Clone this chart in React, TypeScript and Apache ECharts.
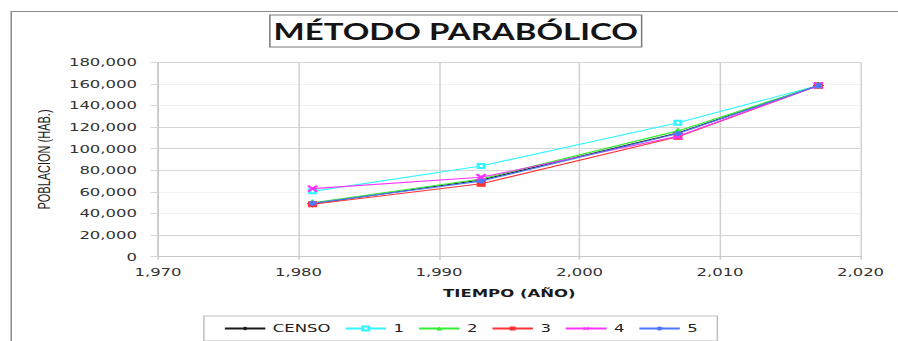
import React, { useEffect, useRef } from "react";
import * as echarts from "echarts";

// Census years and population (inhabitants) for each projection run
const years = [1981, 1993, 2007, 2017];
const censo = [49000, 71000, 114500, 158500];
const metodo1 = [60500, 84000, 124000, 158500];
const metodo2 = [50000, 72000, 116500, 158500];
const metodo3 = [48500, 67500, 111000, 158500];
const metodo4 = [63000, 73500, 111500, 158500];
const metodo5 = [49500, 70000, 114000, 158500];

const seriesNames = ["CENSO", "1", "2", "3", "4", "5"];
const seriesValues = [censo, metodo1, metodo2, metodo3, metodo4, metodo5];
const seriesColors = ["#1a1a1a", "#33f5ff", "#33ee33", "#ff3333", "#ff33ff", "#4d79ff"];
const crossSymbol =
  "path://M0,1L1,0L5,4L9,0L10,1L6,5L10,9L9,10L5,6L1,10L0,9L4,5Z";
const seriesSymbols = ["diamond", "emptyRect", "triangle", "rect", crossSymbol, "circle"];
const seriesSymbolSizes = [6, 4, 5, 5, 6, 4];

const chartTitle = "MÉTODO PARABÓLICO";
const xAxisName = "TIEMPO (AÑO)";
const yAxisName = "POBLACION (HAB.)";

// The sheet was exported with a horizontal stretch; render narrow and widen.
const PAGE_W = 898;
const PAGE_H = 341;
const CHART_W = 599;
const STRETCH = PAGE_W / CHART_W;

const fmt = (v: number) => v.toLocaleString("en-US");

// visible / faint horizontal grid lines (0 .. 180,000)
const ySplitColors = [
  "#d6d6d6", "#d6d6d6", "#f2f2f2", "#f2f2f2", "#d6d6d6",
  "#d6d6d6", "#d6d6d6", "#f2f2f2", "#f2f2f2", "#d6d6d6",
];

export default function App() {
  const ref = useRef<HTMLDivElement>(null);

  useEffect(() => {
    if (!ref.current) return;
    const chart = echarts.init(ref.current, null, { renderer: "svg" });

    const series = seriesNames.map((name, i) => ({
      name,
      type: "line",
      data: years.map((y, k) => [y, seriesValues[i][k]]),
      symbol: seriesSymbols[i],
      symbolSize: seriesSymbolSizes[i],
      showSymbol: true,
      color: seriesColors[i],
      lineStyle: { width: 1.1, color: seriesColors[i] },
      itemStyle: { color: seriesColors[i], borderColor: seriesColors[i] },
      z: 2 + i,
    }));

    chart.setOption({
      animation: false,
      backgroundColor: "#ffffff",
      graphic: [
        {
          type: "rect",
          left: 5,
          top: 9,
          shape: { width: 620, height: 400 },
          style: { fill: "none", stroke: "#8c8c8c", lineWidth: 1 },
          silent: true,
        },
        {
          type: "rect",
          x: 180,
          y: 15,
          shape: { width: 248, height: 32 },
          style: { fill: "#ffffff", stroke: "#7a7a7a", lineWidth: 1 },
          silent: true,
        },
        {
          type: "text",
          x: 304,
          y: 31.5,
          style: {
            text: chartTitle,
            fill: "#141414",
            font: "bold 22px Lato, 'Open Sans', sans-serif",
            textAlign: "center",
            textVerticalAlign: "middle",
          },
          silent: true,
        },
      ],
      legend: {
        data: seriesNames,
        left: 136,
        top: 316,
        orient: "horizontal",
        itemWidth: 27,
        itemHeight: 5,
        itemGap: 9,
        padding: [7, 13, 7, 13],
        borderColor: "#bdbdbd",
        borderWidth: 1,
        backgroundColor: "#ffffff",
        textStyle: {
          fontFamily: "DejaVu Sans",
          fontSize: 11,
          color: "#222",
        },
      },
      grid: {
        left: 105.4,
        top: 62.3,
        width: 468.6,
        height: 194.4,
        containLabel: false,
      },
      xAxis: {
        type: "value",
        min: 1970,
        max: 2020,
        interval: 10,
        name: xAxisName,
        nameLocation: "middle",
        nameGap: 31,
        nameTextStyle: {
          fontFamily: "DejaVu Sans",
          fontWeight: "bold",
          fontSize: 11,
          color: "#1a1a1a",
        },
        axisLine: { show: true, lineStyle: { color: "#c8c8c8", width: 1 } },
        axisTick: { show: true, length: 3, lineStyle: { color: "#c8c8c8" } },
        axisLabel: {
          formatter: (v: number) => fmt(v),
          fontFamily: "DejaVu Sans",
          fontSize: 11,
          color: "#333",
          margin: 10,
        },
        splitLine: { show: true, lineStyle: { color: "#d0d0d0", width: 1 } },
      },
      yAxis: {
        type: "value",
        min: 0,
        max: 180000,
        interval: 20000,
        name: yAxisName,
        nameLocation: "middle",
        nameGap: 60,
        nameRotate: 90,
        nameTextStyle: {
          fontFamily: "'Liberation Sans', Arial, sans-serif",
          fontSize: 11,
          color: "#1a1a1a",
        },
        axisLine: { show: true, lineStyle: { color: "#c8c8c8", width: 1 } },
        axisTick: { show: true, length: 5, lineStyle: { color: "#d6d6d6" } },
        axisLabel: {
          formatter: (v: number) => fmt(v),
          fontFamily: "DejaVu Sans",
          fontSize: 11,
          color: "#333",
          margin: 14,
        },
        splitLine: { show: true, lineStyle: { color: ySplitColors, width: 1 } },
      },
      series,
    });

    return () => chart.dispose();
  }, []);

  return (
    <div
      style={{
        position: "fixed",
        left: 0,
        top: 0,
        width: PAGE_W,
        height: PAGE_H,
        overflow: "hidden",
        background: "#ffffff",
      }}
    >
      <div
        ref={ref}
        style={{
          width: CHART_W,
          height: PAGE_H,
          transform: `scaleX(${STRETCH})`,
          transformOrigin: "0 0",
        }}
      />
    </div>
  );
}
